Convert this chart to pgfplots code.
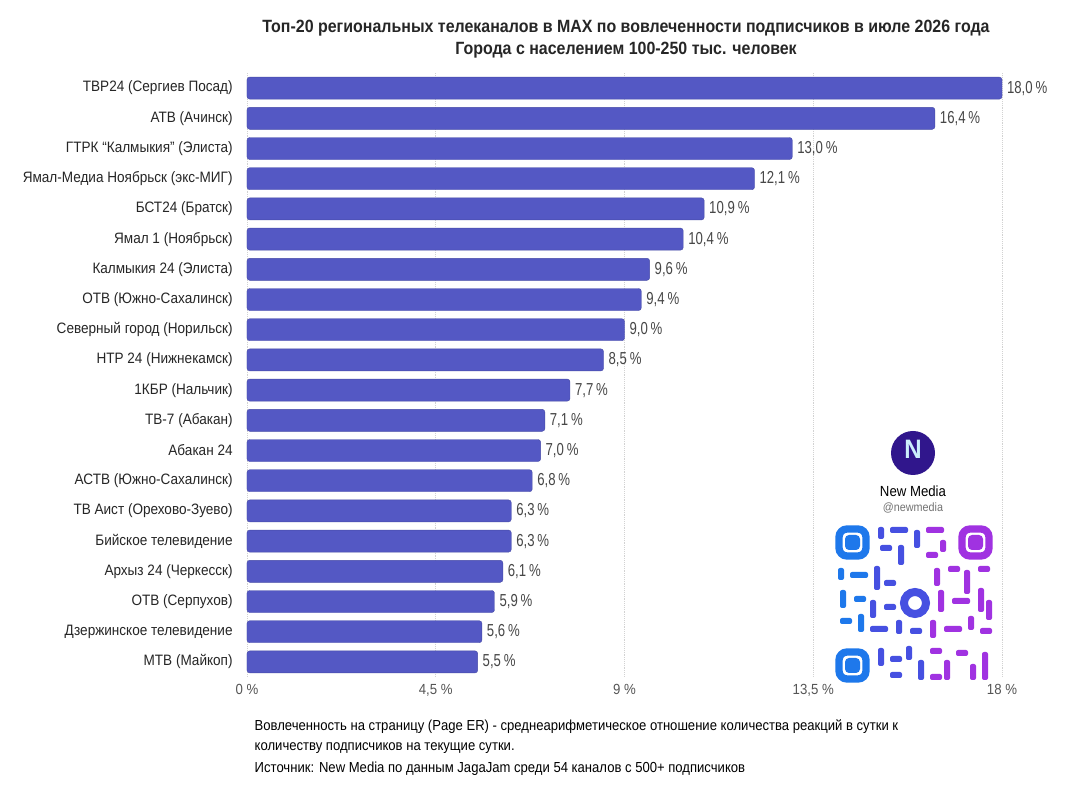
\documentclass[border=0pt]{standalone}
\usepackage{fontspec}
\setmainfont{Liberation Sans}[FakeStretch=0.9]
\newfontfamily\narrowfont{Liberation Sans}[FakeStretch=0.76]
\usepackage{pgfplots}
\usepackage{pgfplotstable}
\pgfplotsset{compat=1.18}
\definecolor{barc}{RGB}{84,88,196}
\definecolor{gridc}{RGB}{210,210,210}
\definecolor{tickc}{RGB}{85,85,85}
\definecolor{qrblue}{RGB}{30,120,235}
\definecolor{qrmid}{RGB}{70,80,225}
\definecolor{qrpurp}{RGB}{160,50,225}
\definecolor{logoc}{RGB}{48,22,140}
\pgfplotstableread{
idx val
0 18.0
1 16.4
2 13.0
3 12.1
4 10.9
5 10.4
6 9.6
7 9.4
8 9.0
9 8.5
10 7.7
11 7.1
12 7.0
13 6.8
14 6.3
15 6.3
16 6.1
17 5.9
18 5.6
19 5.5
}\datatable
\begin{document}
\begin{tikzpicture}
\path[use as bounding box, fill=white] (0,0) rectangle (803.25pt,600pt);
\begin{axis}[
  at={(185.25pt,92.25pt)}, anchor=south west,
  scale only axis, width=566.25pt, height=453pt,
  xbar, bar width=16.5pt,
  xmin=0, xmax=18, ymin=-0.5, ymax=19.5, y dir=reverse,
  clip=false,
  axis line style={draw=none}, tick style={draw=none},
  xtick={0,4.5,9,13.5,18},
  xticklabels={{0 \%},{4,5 \%},{9 \%},{13,5 \%},{18 \%}},
  xticklabel style={font=\fontsize{11}{13}\selectfont, text=tickc, yshift=-2pt},
  ytick={0,...,19},
  yticklabels={
    {ТВР24 (Сергиев Посад)},{АТВ (Ачинск)},{ГТРК “Калмыкия” (Элиста)},
    {Ямал-Медиа Ноябрьск (экс-МИГ)},{БСТ24 (Братск)},{Ямал 1 (Ноябрьск)},
    {Калмыкия 24 (Элиста)},{ОТВ (Южно-Сахалинск)},{Северный город (Норильск)},
    {НТР 24 (Нижнекамск)},{1КБР (Нальчик)},{ТВ-7 (Абакан)},{Абакан 24},
    {АСТВ (Южно-Сахалинск)},{ТВ Аист (Орехово-Зуево)},{Бийское телевидение},
    {Архыз 24 (Черкесск)},{ОТВ (Серпухов)},{Дзержинское телевидение},{МТВ (Майкоп)}},
  yticklabel style={font=\fontsize{11.3}{13}\selectfont, text=black!85, xshift=-3pt},
  xmajorgrids, grid style={gridc, densely dotted, line width=0.6pt},
  nodes near coords={\pgfmathprintnumber[fixed,fixed zerofill,precision=1,use comma,assume math mode=true]{\pgfplotspointmeta}\,\%},
  nodes near coords style={font=\narrowfont\fontsize{13}{14}\selectfont, text=black!72, xshift=0.3pt},
  point meta=x,
]
\addplot[fill=barc, draw=barc!85!black, line width=0.3pt, rounded corners=2pt] table[x=val,y=idx]{\datatable};
\end{axis}
\begin{scope}[x=0.75pt,y=-0.75pt,shift={(0pt,600pt)}]
\node[font=\bfseries\fontsize{13.3}{16}\selectfont, text=black!85] at (626,28) {Топ-20 региональных телеканалов в MAX по вовлеченности подписчиков в июле 2026 года};
\node[font=\bfseries\fontsize{13.3}{16}\selectfont, text=black!85] at (626,50) {Города с населением 100-250 тыс. человек};
\node[anchor=west, font=\fontsize{10.9}{13}\selectfont] at (250,727) {Вовлеченность на страницу (Page ER) - среднеарифметическое отношение количества реакций в сутки к};
\node[anchor=west, font=\fontsize{10.9}{13}\selectfont] at (250,748) {количеству подписчиков на текущие сутки.};
\node[anchor=west, font=\fontsize{10.9}{13}\selectfont] at (250,769) {Источник: New Media по данным JagaJam среди 54 каналов с 500+ подписчиков};
% logo
\fill[logoc] (913,453) circle (22);
\node[text=white!80!cyan, font=\bfseries\fontsize{20}{20}\selectfont] at (913,449) {N};
\node[font=\fontsize{11}{13}\selectfont] at (913,491) {New Media};
\node[font=\fontsize{9}{11}\selectfont, text=black!55] at (913,508) {@newmedia};
% QR-like mark
\fill[white] (832,522) rectangle (996,683);
\foreach \x/\y/\c in {835/525/qrblue, 958/525/qrpurp, 835/648/qrblue}{
  \draw[\c, line width=5.5pt, rounded corners=6] (\x+4,\y+4) rectangle (\x+31,\y+31);
  \fill[\c, rounded corners=3] (\x+10,\y+10) rectangle (\x+25,\y+25);
}
\draw[qrmid, line width=6pt] (915,603) circle (11);
\foreach \x/\y/\w/\h/\c in {
 878/527/6/12/qrmid, 890/527/18/6/qrmid, 914/530/6/18/qrmid, 926/527/18/6/qrpurp, 940/540/6/12/qrpurp,
 880/545/12/6/qrmid, 898/545/6/20/qrmid, 926/552/12/6/qrpurp,
 838/568/6/12/qrblue, 850/572/18/6/qrblue, 874/566/6/24/qrmid, 884/580/12/6/qrmid, 934/568/6/18/qrpurp, 948/566/12/6/qrpurp, 964/570/6/24/qrpurp, 978/566/12/6/qrpurp,
 840/590/6/18/qrblue, 854/596/12/6/qrblue, 870/600/6/18/qrmid, 884/604/12/6/qrmid, 938/590/6/22/qrpurp, 952/598/18/6/qrpurp, 978/588/6/24/qrpurp, 986/600/6/20/qrpurp,
 840/618/12/6/qrblue, 858/614/6/18/qrblue, 870/626/18/6/qrmid, 896/620/6/14/qrmid, 910/628/12/6/qrmid, 930/620/6/18/qrpurp, 944/626/18/6/qrpurp, 968/616/6/14/qrpurp, 980/628/12/6/qrpurp,
 878/648/6/18/qrmid, 890/656/12/6/qrmid, 906/646/6/14/qrmid, 918/660/6/20/qrmid, 930/648/12/6/qrpurp, 944/660/6/20/qrpurp, 956/650/12/6/qrpurp, 970/664/6/16/qrpurp, 982/652/6/28/qrpurp,
 890/672/12/6/qrmid, 930/674/12/6/qrpurp}{
  \fill[\c, rounded corners=1.5] (\x,\y) rectangle (\x+\w,\y+\h);
}
\end{scope}
\end{tikzpicture}
\end{document}
